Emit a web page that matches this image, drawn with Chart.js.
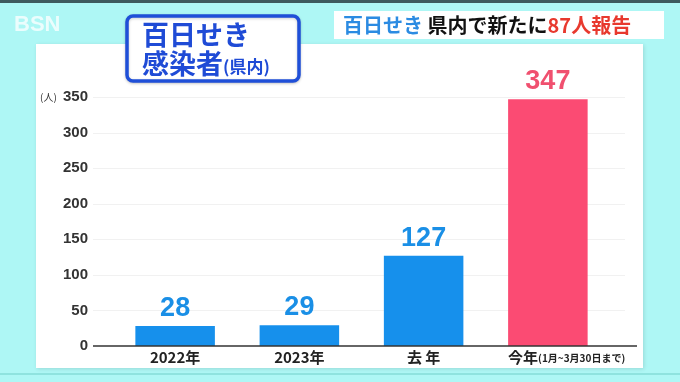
<!DOCTYPE html>
<html>
<head>
<meta charset="utf-8">
<script src="https://cdn.jsdelivr.net/npm/chart.js@4"></script>
<style>
  html, body { margin: 0; padding: 0; background: #aef7f5; }
  #wrap { width: 680px; height: 382px; position: relative; }
</style>
</head>
<body>
<div id="wrap"><canvas id="pertussisChart" width="680" height="382"></canvas></div>
<script>
// datos del gráfico
const categories = ["2022年", "2023年", "去 年", "今年"];
const categoryNotes = ["", "", "", "(1月~3月30日まで)"];
const cases = [28, 29, 127, 347];
const barColors = ["#1690ec", "#1690ec", "#1690ec", "#fb4b73"];
const labelColors = ["#1a8fe6", "#1a8fe6", "#1a8fe6", "#f0506f"];
const yTicks = [0, 50, 100, 150, 200, 250, 300, 350];

const JP = '"Noto Sans CJK JP", "Noto Sans", sans-serif';
const NUM = '"Liberation Sans", Arial, sans-serif';

// fondo, panel blanco, título y banner
const backgroundPlugin = {
  id: "background",
  beforeDraw(chart) {
    const ctx = chart.ctx;
    ctx.save();
    ctx.fillStyle = "#aef7f5";
    ctx.fillRect(0, 0, 680, 382);
    ctx.fillStyle = "#3d5a5e";
    ctx.fillRect(0, 0, 680, 3);
    ctx.fillStyle = "#8fe3df";
    ctx.fillRect(0, 373, 680, 2);

    // logo BSN
    ctx.fillStyle = "rgba(255,255,255,0.75)";
    ctx.font = "bold 22px " + NUM;
    ctx.textBaseline = "middle";
    ctx.fillText("BSN", 14, 25);

    // panel blanco
    ctx.shadowColor = "rgba(0,0,0,0.12)";
    ctx.shadowBlur = 4;
    ctx.shadowOffsetX = 1;
    ctx.shadowOffsetY = 1;
    ctx.fillStyle = "#ffffff";
    ctx.fillRect(36, 44, 607, 324);
    ctx.restore();

    // gridlines tenues
    const y = chart.scales.y;
    ctx.save();
    ctx.strokeStyle = "#f1f1f1";
    ctx.lineWidth = 1;
    yTicks.slice(1).forEach((v) => {
      const py = Math.round(y.getPixelForValue(v)) + 0.5;
      ctx.beginPath();
      ctx.moveTo(93, py);
      ctx.lineTo(625, py);
      ctx.stroke();
    });
    ctx.restore();
  },
  afterDraw(chart) {
    const ctx = chart.ctx;
    const x = chart.scales.x;
    const y = chart.scales.y;
    ctx.save();

    // línea base
    const py0 = y.getPixelForValue(0);
    ctx.strokeStyle = "#333333";
    ctx.lineWidth = 1.5;
    ctx.beginPath();
    ctx.moveTo(93, py0);
    ctx.lineTo(637, py0);
    ctx.stroke();

    // unidad (人)
    ctx.fillStyle = "#333";
    ctx.font = "10px " + JP;
    ctx.textAlign = "left";
    ctx.textBaseline = "middle";
    ctx.fillText("(人)", 40, y.getPixelForValue(350));

    // etiquetas de categoría
    const meta = chart.getDatasetMeta(0);
    categories.forEach((cat, i) => {
      const cx = x.getPixelForValue(i);
      const ly = 357;
      ctx.fillStyle = "#222";
      ctx.textBaseline = "middle";
      if (categoryNotes[i]) {
        const bar = meta.data[i];
        const start = bar.x - bar.width / 2;
        ctx.font = "bold 15px " + JP;
        ctx.textAlign = "left";
        ctx.fillText(cat, start, ly);
        const w = ctx.measureText(cat).width;
        ctx.font = "bold 10px " + JP;
        ctx.fillText(categoryNotes[i], start + w, ly + 1);
      } else {
        ctx.font = "bold 15px " + JP;
        ctx.textAlign = "center";
        ctx.fillText(cat, cx, ly);
      }
    });

    // valores sobre las barras
    meta.data.forEach((bar, i) => {
      ctx.fillStyle = labelColors[i];
      ctx.font = "bold 27px " + NUM;
      ctx.textAlign = "center";
      ctx.textBaseline = "alphabetic";
      ctx.fillText(String(cases[i]), bar.x, bar.y - 10);
    });

    // cuadro de título
    ctx.save();
    ctx.shadowColor = "rgba(0,0,0,0.2)";
    ctx.shadowBlur = 3;
    ctx.shadowOffsetY = 1;
    ctx.fillStyle = "#ffffff";
    ctx.strokeStyle = "#1f4fd8";
    ctx.lineWidth = 3.5;
    ctx.beginPath();
    ctx.roundRect(127, 16, 172, 65, 6);
    ctx.fill();
    ctx.stroke();
    ctx.restore();
    ctx.fillStyle = "#1f4bd6";
    ctx.textAlign = "left";
    ctx.textBaseline = "alphabetic";
    ctx.font = "bold 27px " + JP;
    ctx.fillText("百日せき", 142, 45);
    ctx.fillText("感染者", 142, 74);
    const tw = ctx.measureText("感染者").width;
    ctx.font = "bold 17px " + JP;
    ctx.fillText("(県内)", 142 + tw, 73);

    // banner superior derecho
    ctx.fillStyle = "#ffffff";
    ctx.fillRect(334, 11, 330, 28);
    ctx.font = "bold 20px " + JP;
    ctx.textBaseline = "middle";
    let bx = 343;
    const parts = [["百日せき", "#2b8be2"], [" 県内で新たに", "#111111"], ["87人報告", "#e8392e"]];
    parts.forEach(([t, c]) => {
      ctx.fillStyle = c;
      ctx.fillText(t, bx, 25);
      bx += ctx.measureText(t).width;
    });
    ctx.restore();
  },
};

const ctx = document.getElementById("pertussisChart").getContext("2d");
new Chart(ctx, {
  type: "bar",
  data: {
    labels: categories,
    datasets: [
      {
        data: cases,
        backgroundColor: barColors,
        borderWidth: 0,
        categoryPercentage: 1,
        barPercentage: 0.64,
      },
    ],
  },
  options: {
    responsive: false,
    animation: false,
    layout: { padding: { left: 0, right: 70, top: 97, bottom: 0 } },
    plugins: { legend: { display: false }, tooltip: { enabled: false } },
    scales: {
      x: {
        grid: { display: false },
        border: { display: false },
        ticks: { display: false },
        afterFit: (s) => { s.height = 36; },
      },
      y: {
        min: 0,
        max: 350,
        grid: { display: false, drawTicks: false },
        border: { display: false },
        afterBuildTicks: (s) => { s.ticks = yTicks.map((v) => ({ value: v })); },
        afterFit: (s) => { s.width = 113; },
        ticks: {
          padding: 25,
          color: "#333333",
          font: { family: NUM, size: 15, weight: "bold" },
        },
      },
    },
  },
  plugins: [backgroundPlugin],
});
</script>
</body>
</html>
